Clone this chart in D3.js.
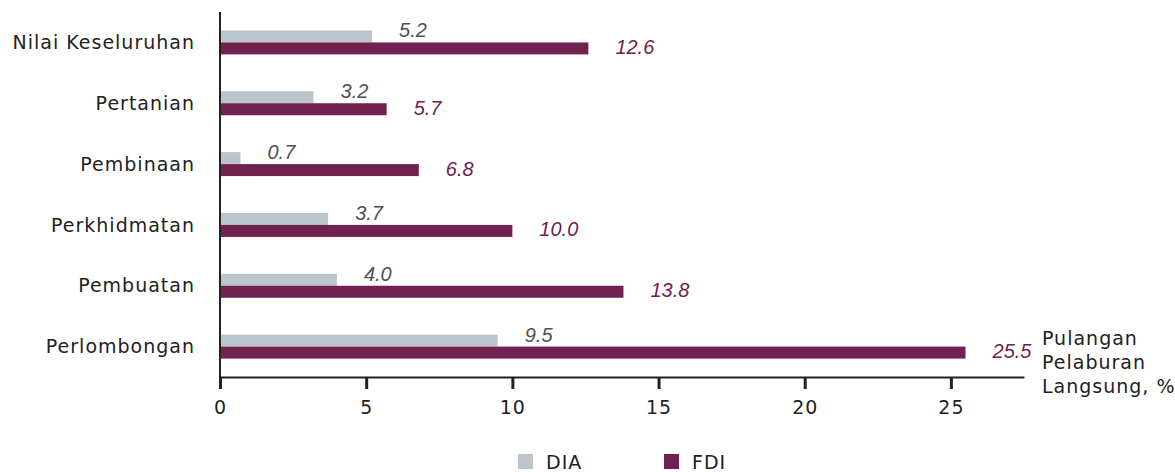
<!DOCTYPE html>
<html>
<head>
<meta charset="utf-8">
<script src="https://cdn.jsdelivr.net/npm/d3@7"></script>
<style>
  body { margin: 0; background: #fff; }
</style>
</head>
<body>
<div id="chart"></div>
<script>
// data ------------------------------------------------------------------
const categories = ['Nilai Keseluruhan', 'Pertanian', 'Pembinaan', 'Perkhidmatan', 'Pembuatan', 'Perlombongan'];
const diaValues = [5.2, 3.2, 0.7, 3.7, 4.0, 9.5];
const fdiValues = [12.6, 5.7, 6.8, 10.0, 13.8, 25.5];
const xTicks = [0, 5, 10, 15, 20, 25];
const axisTitle = ['Pulangan', 'Pelaburan', 'Langsung, %'];
const seriesNames = ['DIA', 'FDI'];
const colors = {DIA: '#bac6cb', FDI: '#6f2150'};
const labelColors = {DIA: '#505050', FDI: '#6f2150'};

const width = 1175;
const height = 472;
const mainFont = '"DejaVu Sans", sans-serif';
const valueFont = '"Liberation Sans", Arial, sans-serif';
const svg = d3.select('#chart').append('svg')
  .attr('width', width)
  .attr('height', height);

// 共通の文字スタイル
const mainText = sel => sel
  .style('font-family', mainFont)
  .style('font-size', '19px')
  .style('letter-spacing', '1px')
  .attr('fill', '#222');

// scales ------------------------------------------------------------------
const x = d3.scaleLinear().domain([0, 27.5]).range([220, 1024]);
const y = d3.scaleBand().domain(categories).range([12, 377]);
const barH = 12;

const rows = categories.map((c, i) => ({cat: c, dia: diaValues[i], fdi: fdiValues[i]}));

// bars --------------------------------------------------------------------
const g = svg.append('g');
const row = g.selectAll('.row').data(rows).enter().append('g')
  .attr('class', 'row')
  .attr('transform', d => 'translate(0,' + (y(d.cat) + y.bandwidth() / 2) + ')');

row.append('rect')
  .attr('x', x(0))
  .attr('y', -barH)
  .attr('width', d => x(d.dia) - x(0))
  .attr('height', barH)
  .attr('fill', colors.DIA);
row.append('rect')
  .attr('x', x(0))
  .attr('y', 0)
  .attr('width', d => x(d.fdi) - x(0))
  .attr('height', barH)
  .attr('fill', colors.FDI);

// value labels
row.append('text')
  .attr('x', d => x(d.dia) + 27)
  .attr('y', -5)
  .style('font-family', valueFont)
  .style('font-style', 'italic')
  .style('font-size', '20px')
  .attr('fill', labelColors.DIA)
  .text(d => d.dia.toFixed(1));
row.append('text')
  .attr('x', d => x(d.fdi) + 27)
  .attr('y', 11.5)
  .style('font-family', valueFont)
  .style('font-style', 'italic')
  .style('font-size', '20px')
  .attr('fill', labelColors.FDI)
  .text(d => d.fdi.toFixed(1));

// category labels
row.append('text')
  .attr('x', 195)
  .attr('y', 0)
  .attr('dy', '0.35em')
  .attr('text-anchor', 'end')
  .call(mainText)
  .text(d => d.cat);

// axes --------------------------------------------------------------------
svg.append('line')
  .attr('x1', x(0)).attr('x2', x(0))
  .attr('y1', 12).attr('y2', 377)
  .attr('stroke', '#222').attr('stroke-width', 2);

const xAxis = svg.append('g')
  .attr('transform', 'translate(0,377)')
  .call(d3.axisBottom(x).tickValues(xTicks).tickSize(12).tickPadding(12).tickSizeOuter(0));
xAxis.select('.domain').attr('stroke', '#222').attr('stroke-width', 2);
xAxis.selectAll('.tick line').attr('stroke', '#222').attr('stroke-width', 3);
xAxis.selectAll('.tick text').call(mainText);

// axis title
svg.append('text')
  .attr('x', 1042)
  .attr('y', 345)
  .call(mainText)
  .selectAll('tspan').data(axisTitle).enter().append('tspan')
  .attr('x', 1042)
  .attr('dy', (d, i) => i === 0 ? 0 : 24)
  .text(d => d);

// legend ------------------------------------------------------------------
const legendX = [518, 664];
const legend = svg.selectAll('.legend').data(seriesNames).enter().append('g')
  .attr('class', 'legend')
  .attr('transform', (d, i) => 'translate(' + legendX[i] + ',454)');
legend.append('rect')
  .attr('width', 15).attr('height', 15)
  .attr('fill', d => colors[d]);
legend.append('text')
  .attr('x', 28)
  .attr('y', 8)
  .attr('dy', '0.36em')
  .call(mainText)
  .text(d => d);
</script>
</body>
</html>
